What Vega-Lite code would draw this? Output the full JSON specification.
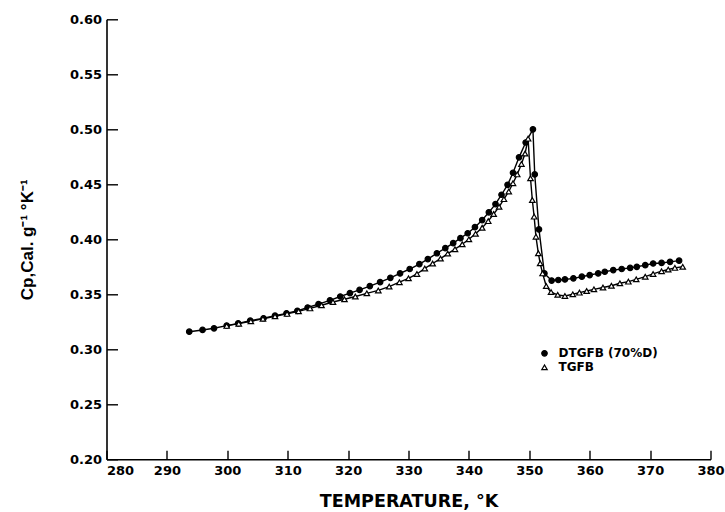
{
  "$schema": "https://vega.github.io/schema/vega-lite/v6.json",
  "width": 604,
  "height": 440,
  "autosize": {"type": "none"},
  "padding": {"left": 106.5, "top": 19.3, "right": 14.5, "bottom": 52.7},
  "background": "white",
  "config": {
    "view": {"stroke": null},
    "font": "DejaVu Sans",
    "axis": {
      "grid": false,
      "domainColor": "black",
      "domainWidth": 1.6,
      "tickColor": "black",
      "tickWidth": 1.4,
      "labelColor": "black",
      "labelFont": "DejaVu Sans",
      "labelFontWeight": "bold",
      "labelFontSize": 13,
      "titleColor": "black"
    }
  },
  "datasets": {
    "cp": [
      {"T": 293.7, "Cp": 0.316, "s": "DTGFB (70%D)"},
      {"T": 295.9, "Cp": 0.3176, "s": "DTGFB (70%D)"},
      {"T": 297.8, "Cp": 0.3191, "s": "DTGFB (70%D)"},
      {"T": 299.9, "Cp": 0.3215, "s": "DTGFB (70%D)"},
      {"T": 301.8, "Cp": 0.3236, "s": "DTGFB (70%D)"},
      {"T": 303.8, "Cp": 0.326, "s": "DTGFB (70%D)"},
      {"T": 306.0, "Cp": 0.3282, "s": "DTGFB (70%D)"},
      {"T": 307.9, "Cp": 0.3306, "s": "DTGFB (70%D)"},
      {"T": 309.8, "Cp": 0.3327, "s": "DTGFB (70%D)"},
      {"T": 311.6, "Cp": 0.335, "s": "DTGFB (70%D)"},
      {"T": 313.3, "Cp": 0.338, "s": "DTGFB (70%D)"},
      {"T": 315.1, "Cp": 0.341, "s": "DTGFB (70%D)"},
      {"T": 317.0, "Cp": 0.3445, "s": "DTGFB (70%D)"},
      {"T": 318.7, "Cp": 0.348, "s": "DTGFB (70%D)"},
      {"T": 320.3, "Cp": 0.351, "s": "DTGFB (70%D)"},
      {"T": 321.9, "Cp": 0.354, "s": "DTGFB (70%D)"},
      {"T": 323.6, "Cp": 0.3575, "s": "DTGFB (70%D)"},
      {"T": 325.3, "Cp": 0.361, "s": "DTGFB (70%D)"},
      {"T": 327.0, "Cp": 0.365, "s": "DTGFB (70%D)"},
      {"T": 328.6, "Cp": 0.369, "s": "DTGFB (70%D)"},
      {"T": 330.2, "Cp": 0.373, "s": "DTGFB (70%D)"},
      {"T": 331.8, "Cp": 0.3775, "s": "DTGFB (70%D)"},
      {"T": 333.2, "Cp": 0.382, "s": "DTGFB (70%D)"},
      {"T": 334.7, "Cp": 0.3873, "s": "DTGFB (70%D)"},
      {"T": 336.1, "Cp": 0.392, "s": "DTGFB (70%D)"},
      {"T": 337.4, "Cp": 0.3965, "s": "DTGFB (70%D)"},
      {"T": 338.6, "Cp": 0.401, "s": "DTGFB (70%D)"},
      {"T": 339.8, "Cp": 0.4055, "s": "DTGFB (70%D)"},
      {"T": 341.0, "Cp": 0.411, "s": "DTGFB (70%D)"},
      {"T": 342.2, "Cp": 0.4175, "s": "DTGFB (70%D)"},
      {"T": 343.3, "Cp": 0.4245, "s": "DTGFB (70%D)"},
      {"T": 344.4, "Cp": 0.432, "s": "DTGFB (70%D)"},
      {"T": 345.4, "Cp": 0.4405, "s": "DTGFB (70%D)"},
      {"T": 346.4, "Cp": 0.4495, "s": "DTGFB (70%D)"},
      {"T": 347.3, "Cp": 0.4605, "s": "DTGFB (70%D)"},
      {"T": 348.3, "Cp": 0.4745, "s": "DTGFB (70%D)"},
      {"T": 349.4, "Cp": 0.488, "s": "DTGFB (70%D)"},
      {"T": 350.6, "Cp": 0.5, "s": "DTGFB (70%D)"},
      {"T": 350.9, "Cp": 0.459, "s": "DTGFB (70%D)"},
      {"T": 351.6, "Cp": 0.409, "s": "DTGFB (70%D)"},
      {"T": 352.5, "Cp": 0.369, "s": "DTGFB (70%D)"},
      {"T": 353.7, "Cp": 0.3625, "s": "DTGFB (70%D)"},
      {"T": 354.8, "Cp": 0.363, "s": "DTGFB (70%D)"},
      {"T": 355.9, "Cp": 0.3635, "s": "DTGFB (70%D)"},
      {"T": 357.3, "Cp": 0.3645, "s": "DTGFB (70%D)"},
      {"T": 358.7, "Cp": 0.366, "s": "DTGFB (70%D)"},
      {"T": 360.0, "Cp": 0.3675, "s": "DTGFB (70%D)"},
      {"T": 361.4, "Cp": 0.369, "s": "DTGFB (70%D)"},
      {"T": 362.5, "Cp": 0.3705, "s": "DTGFB (70%D)"},
      {"T": 363.9, "Cp": 0.372, "s": "DTGFB (70%D)"},
      {"T": 365.3, "Cp": 0.373, "s": "DTGFB (70%D)"},
      {"T": 366.7, "Cp": 0.374, "s": "DTGFB (70%D)"},
      {"T": 367.8, "Cp": 0.375, "s": "DTGFB (70%D)"},
      {"T": 369.2, "Cp": 0.3765, "s": "DTGFB (70%D)"},
      {"T": 370.5, "Cp": 0.378, "s": "DTGFB (70%D)"},
      {"T": 371.9, "Cp": 0.3785, "s": "DTGFB (70%D)"},
      {"T": 373.3, "Cp": 0.3795, "s": "DTGFB (70%D)"},
      {"T": 374.8, "Cp": 0.3806, "s": "DTGFB (70%D)"},
      {"T": 299.9, "Cp": 0.3213, "s": "TGFB"},
      {"T": 301.9, "Cp": 0.3233, "s": "TGFB"},
      {"T": 303.9, "Cp": 0.3255, "s": "TGFB"},
      {"T": 305.9, "Cp": 0.3277, "s": "TGFB"},
      {"T": 307.9, "Cp": 0.33, "s": "TGFB"},
      {"T": 309.9, "Cp": 0.3322, "s": "TGFB"},
      {"T": 311.8, "Cp": 0.3345, "s": "TGFB"},
      {"T": 313.7, "Cp": 0.3372, "s": "TGFB"},
      {"T": 315.6, "Cp": 0.34, "s": "TGFB"},
      {"T": 317.5, "Cp": 0.343, "s": "TGFB"},
      {"T": 319.4, "Cp": 0.3455, "s": "TGFB"},
      {"T": 321.2, "Cp": 0.348, "s": "TGFB"},
      {"T": 323.1, "Cp": 0.3509, "s": "TGFB"},
      {"T": 325.0, "Cp": 0.3535, "s": "TGFB"},
      {"T": 326.8, "Cp": 0.357, "s": "TGFB"},
      {"T": 328.5, "Cp": 0.361, "s": "TGFB"},
      {"T": 330.0, "Cp": 0.3645, "s": "TGFB"},
      {"T": 331.4, "Cp": 0.3685, "s": "TGFB"},
      {"T": 332.7, "Cp": 0.3735, "s": "TGFB"},
      {"T": 334.0, "Cp": 0.378, "s": "TGFB"},
      {"T": 335.3, "Cp": 0.3825, "s": "TGFB"},
      {"T": 336.5, "Cp": 0.387, "s": "TGFB"},
      {"T": 337.7, "Cp": 0.391, "s": "TGFB"},
      {"T": 338.9, "Cp": 0.3955, "s": "TGFB"},
      {"T": 340.0, "Cp": 0.4, "s": "TGFB"},
      {"T": 341.1, "Cp": 0.405, "s": "TGFB"},
      {"T": 342.2, "Cp": 0.4105, "s": "TGFB"},
      {"T": 343.2, "Cp": 0.4165, "s": "TGFB"},
      {"T": 344.1, "Cp": 0.423, "s": "TGFB"},
      {"T": 345.0, "Cp": 0.4295, "s": "TGFB"},
      {"T": 345.8, "Cp": 0.4365, "s": "TGFB"},
      {"T": 346.6, "Cp": 0.4435, "s": "TGFB"},
      {"T": 347.3, "Cp": 0.451, "s": "TGFB"},
      {"T": 348.0, "Cp": 0.459, "s": "TGFB"},
      {"T": 348.7, "Cp": 0.4685, "s": "TGFB"},
      {"T": 349.3, "Cp": 0.478, "s": "TGFB"},
      {"T": 349.8, "Cp": 0.4915, "s": "TGFB"},
      {"T": 350.2, "Cp": 0.4555, "s": "TGFB"},
      {"T": 350.5, "Cp": 0.4357, "s": "TGFB"},
      {"T": 350.8, "Cp": 0.4206, "s": "TGFB"},
      {"T": 351.1, "Cp": 0.4024, "s": "TGFB"},
      {"T": 351.5, "Cp": 0.3873, "s": "TGFB"},
      {"T": 351.8, "Cp": 0.3782, "s": "TGFB"},
      {"T": 352.2, "Cp": 0.369, "s": "TGFB"},
      {"T": 352.8, "Cp": 0.3575, "s": "TGFB"},
      {"T": 353.6, "Cp": 0.352, "s": "TGFB"},
      {"T": 354.7, "Cp": 0.3495, "s": "TGFB"},
      {"T": 355.9, "Cp": 0.3485, "s": "TGFB"},
      {"T": 357.2, "Cp": 0.35, "s": "TGFB"},
      {"T": 358.3, "Cp": 0.3515, "s": "TGFB"},
      {"T": 359.5, "Cp": 0.353, "s": "TGFB"},
      {"T": 360.7, "Cp": 0.3545, "s": "TGFB"},
      {"T": 362.2, "Cp": 0.3562, "s": "TGFB"},
      {"T": 363.6, "Cp": 0.3578, "s": "TGFB"},
      {"T": 365.0, "Cp": 0.36, "s": "TGFB"},
      {"T": 366.4, "Cp": 0.3615, "s": "TGFB"},
      {"T": 367.7, "Cp": 0.3636, "s": "TGFB"},
      {"T": 369.2, "Cp": 0.366, "s": "TGFB"},
      {"T": 370.5, "Cp": 0.3685, "s": "TGFB"},
      {"T": 371.9, "Cp": 0.371, "s": "TGFB"},
      {"T": 373.0, "Cp": 0.3725, "s": "TGFB"},
      {"T": 374.1, "Cp": 0.374, "s": "TGFB"},
      {"T": 375.4, "Cp": 0.375, "s": "TGFB"}
    ]
  },
  "data": {"name": "cp"},
  "encoding": {
    "x": {
      "field": "T",
      "type": "quantitative",
      "scale": {"domain": [280, 380], "nice": false, "zero": false},
      "axis": {
        "values": [280, 290, 300, 310, 320, 330, 340, 350, 360, 370, 380],
        "format": "d",
        "tickSize": -9,
        "labelPadding": 14.5,
        "labelBaseline": "top",
        "labelAlign": {"condition": {"test": "datum.value == 280", "value": "left"}, "value": "center"},
        "title": "TEMPERATURE, °K",
        "titleFont": "DejaVu Sans",
        "titleFontSize": 17.5,
        "titleFontWeight": "bold",
        "titleBaseline": "middle",
        "titleY": 42
      }
    },
    "y": {
      "field": "Cp",
      "type": "quantitative",
      "scale": {"domain": [0.2, 0.6], "nice": false, "zero": false},
      "axis": {
        "values": [0.2, 0.25, 0.3, 0.35, 0.4, 0.45, 0.5, 0.55, 0.6],
        "format": ".2f",
        "tickSize": -11,
        "labelPadding": 16,
        "title": "Cp,Cal. g⁻¹ °K⁻¹",
        "titleFont": "Liberation Sans",
        "titleFontSize": 17,
        "titleFontWeight": "bold",
        "titleAngle": -90,
        "titleBaseline": "middle",
        "titleAlign": "center",
        "titleX": -79,
        "titleY": 220
      }
    }
  },
  "layer": [
    {
      "mark": {"type": "line", "color": "black", "strokeWidth": 1.4},
      "encoding": {"detail": {"field": "s"}}
    },
    {
      "mark": {"type": "point", "strokeWidth": 1.2, "size": 30, "opacity": 1, "filled": false},
      "encoding": {
        "color": {
          "field": "s",
          "type": "nominal",
          "scale": {"domain": ["DTGFB (70%D)", "TGFB"], "range": ["black", "black"]},
          "legend": {
            "orient": "none",
            "legendX": 432,
            "legendY": 328,
            "title": null,
            "padding": 0,
            "rowPadding": 2,
            "labelOffset": 8,
            "labelFont": "DejaVu Sans",
            "labelFontWeight": "bold",
            "labelFontSize": 12,
            "labelColor": "black",
            "symbolSize": 30,
            "symbolStrokeWidth": 1.2,
            "encode": {
              "symbols": {
                "update": {
                  "fill": {"signal": "datum.value === 'TGFB' ? 'white' : 'black'"}
                }
              }
            }
          }
        },
        "shape": {
          "field": "s",
          "type": "nominal",
          "scale": {"domain": ["DTGFB (70%D)", "TGFB"], "range": ["circle", "triangle-up"]},
          "legend": {
            "orient": "none",
            "legendX": 432,
            "legendY": 328,
            "title": null,
            "padding": 0,
            "rowPadding": 2,
            "labelOffset": 8,
            "labelFont": "DejaVu Sans",
            "labelFontWeight": "bold",
            "labelFontSize": 12,
            "labelColor": "black",
            "symbolSize": 30,
            "symbolStrokeWidth": 1.2,
            "encode": {
              "symbols": {
                "update": {
                  "fill": {"signal": "datum.value === 'TGFB' ? 'white' : 'black'"}
                }
              }
            }
          }
        },
        "fill": {
          "field": "s",
          "type": "nominal",
          "scale": {"domain": ["DTGFB (70%D)", "TGFB"], "range": ["black", "white"]},
          "legend": null
        }
      }
    }
  ]
}
